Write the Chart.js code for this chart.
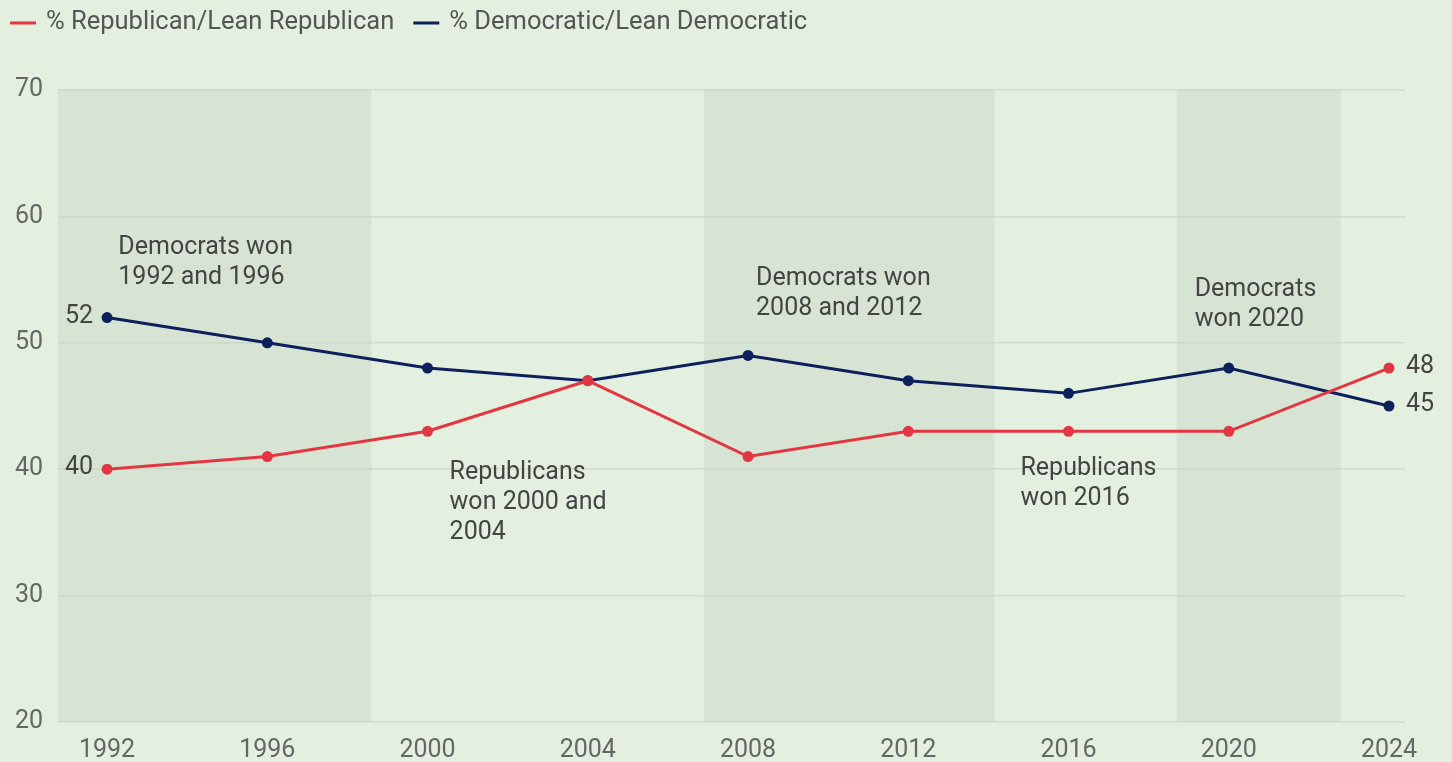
<!DOCTYPE html>
<html>
<head>
<meta charset="utf-8">
<script src="https://cdn.jsdelivr.net/npm/chart.js@4/dist/chart.umd.min.js"></script>
<style>
  html, body { margin: 0; padding: 0; background: #e3f0df; }
  #wrap { width: 1452px; height: 762px; }
</style>
</head>
<body>
<div id="wrap"><canvas id="partyChart"></canvas></div>
<script>
const years = [1992, 1996, 2000, 2004, 2008, 2012, 2016, 2020, 2024];
const republican = [40, 41, 43, 47, 41, 43, 43, 43, 48];
const democratic = [52, 50, 48, 47, 49, 47, 46, 48, 45];
const yTicks = [20, 30, 40, 50, 60, 70];

// shaded periods (Democratic wins), in years
const shadedFrom = [1990.7, 2006.9, 2018.7];
const shadedTo = [1998.6, 2014.15, 2022.8];

// notes inside the plot, anchored at (year, value) of the first line
const notes = [
  { x: 1992.28, y: 57.5, lines: ["Democrats won", "1992 and 1996"] },
  { x: 2008.2, y: 55.1, lines: ["Democrats won", "2008 and 2012"] },
  { x: 2019.15, y: 54.2, lines: ["Democrats", "won 2020"] },
  { x: 2000.55, y: 39.75, lines: ["Republicans", "won 2000 and", "2004"] },
  { x: 2014.8, y: 40.05, lines: ["Republicans", "won 2016"] },
];

const RED = "rgb(226, 55, 66)";
const NAVY = "rgb(12, 33, 92)";
const FONT = "Roboto";

const toPoints = (vals) => years.map((y, i) => ({ x: y, y: vals[i] }));

const bands = {
  id: "bands",
  beforeDatasetsDraw(chart) {
    const { ctx, chartArea, scales } = chart;
    ctx.save();
    ctx.fillStyle = "rgba(196, 208, 194, 0.38)";
    shadedFrom.forEach((from, i) => {
      const x1 = Math.max(scales.x.getPixelForValue(from), chartArea.left);
      const x2 = scales.x.getPixelForValue(shadedTo[i]);
      ctx.fillRect(x1, chartArea.top, x2 - x1, chartArea.bottom - chartArea.top);
    });
    ctx.restore();
  },
};

// simple legend drawn on top, left aligned
const topLegend = {
  id: "topLegend",
  afterDraw(chart) {
    const { ctx } = chart;
    ctx.save();
    ctx.font = "25.5px " + FONT;
    ctx.textBaseline = "middle";
    ctx.textAlign = "left";
    let x = 10;
    const y = 23;
    chart.data.datasets.forEach((ds) => {
      ctx.fillStyle = ds.borderColor;
      ctx.fillRect(x, y - 1.5, 26, 3);
      x += 36;
      ctx.fillStyle = "#555";
      ctx.fillText(ds.label, x, y);
      x += ctx.measureText(ds.label).width + 19;
    });
    ctx.restore();
  },
};

const labels = {
  id: "labels",
  afterDatasetsDraw(chart) {
    const { ctx, scales } = chart;
    ctx.save();
    ctx.font = "25px " + FONT;
    ctx.fillStyle = "#444";
    ctx.textBaseline = "middle";
    // end values
    const last = years.length - 1;
    [republican, democratic].forEach((vals) => {
      ctx.textAlign = "right";
      ctx.fillText(vals[0], scales.x.getPixelForValue(years[0]) - 14, scales.y.getPixelForValue(vals[0]) - 1);
      ctx.textAlign = "left";
      ctx.fillText(vals[last], scales.x.getPixelForValue(years[last]) + 17, scales.y.getPixelForValue(vals[last]) - 1);
    });
    // notes
    ctx.textAlign = "left";
    notes.forEach((n) => {
      const x = scales.x.getPixelForValue(n.x);
      const y = scales.y.getPixelForValue(n.y);
      n.lines.forEach((line, i) => ctx.fillText(line, x, y + i * 30));
    });
    ctx.restore();
  },
};

const data = {
  datasets: [
    {
      label: "% Republican/Lean Republican",
      data: toPoints(republican),
      borderColor: RED,
      backgroundColor: RED,
      borderWidth: 3,
      pointRadius: 5.5,
      pointBackgroundColor: RED,
      pointBorderWidth: 0,
      tension: 0,
    },
    {
      label: "% Democratic/Lean Democratic",
      data: toPoints(democratic),
      borderColor: NAVY,
      backgroundColor: NAVY,
      borderWidth: 3,
      pointRadius: 5.5,
      pointBackgroundColor: NAVY,
      pointBorderWidth: 0,
      tension: 0,
    },
  ],
};

const config = {
  type: "line",
  data: data,
  options: {
    responsive: true,
    maintainAspectRatio: false,
    animation: false,
    layout: { padding: { left: 0, right: 47, top: 90, bottom: 0 } },
    plugins: {
      tooltip: { enabled: false },
      legend: { display: false },
    },
    scales: {
      x: {
        type: "linear",
        min: 1990.775,
        max: 2024.4,
        afterBuildTicks: (scale) => {
          scale.ticks = years.map((v) => ({ value: v }));
        },
        afterFit: (scale) => {
          scale.height = 40;
        },
        grid: { display: false },
        border: { display: false },
        ticks: {
          font: { family: FONT, size: 25 },
          color: "#666",
          padding: 6,
          maxRotation: 0,
          autoSkip: false,
          callback: (v) => String(v),
        },
      },
      y: {
        min: 20,
        max: 70,
        afterBuildTicks: (scale) => {
          scale.ticks = yTicks.map((v) => ({ value: v }));
        },
        afterFit: (scale) => {
          scale.width = 58;
        },
        grid: { color: "#d0ddcc", lineWidth: 1.5, drawTicks: false },
        border: { display: false },
        ticks: {
          font: { family: FONT, size: 25 },
          color: "#666",
          padding: 15,
        },
      },
    },
  },
  plugins: [bands, labels, topLegend],
};

var ctx = document.getElementById("partyChart").getContext("2d");
var chart = new Chart(ctx, config);
</script>
</body>
</html>
